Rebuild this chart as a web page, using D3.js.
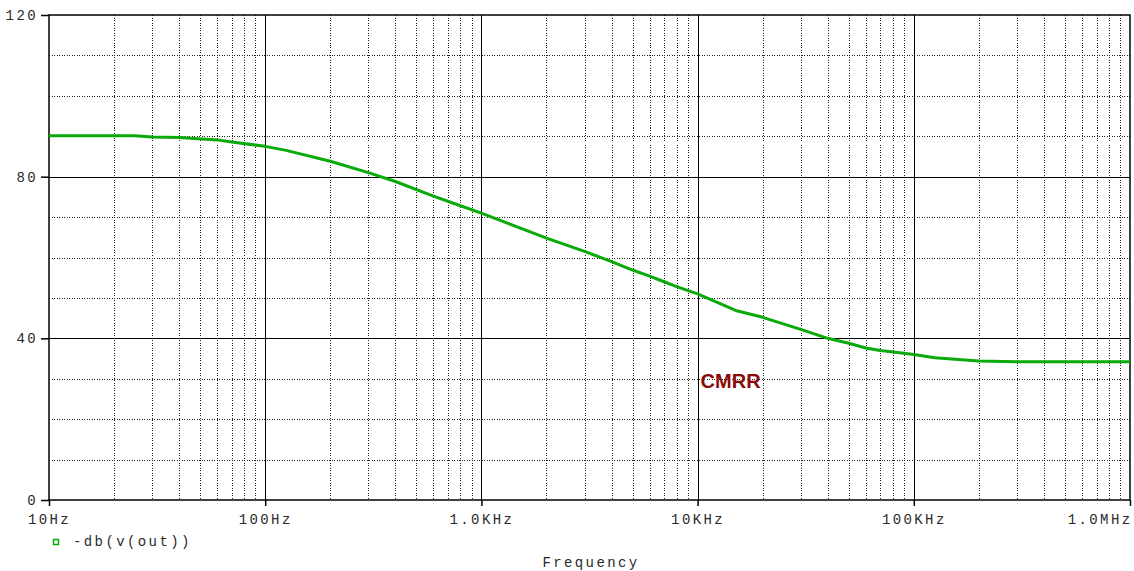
<!DOCTYPE html>
<html>
<head>
<meta charset="utf-8">
<script src="https://cdn.jsdelivr.net/npm/d3@7"></script>
<style>
body { margin:0; background:#fff; }
text { font-family:"Liberation Mono", "DejaVu Sans Mono", monospace; font-size:14px; letter-spacing:2.4px; fill:#2a2a2a; }
</style>
</head>
<body>
<script>
var freqs = [10, 25, 30, 40, 60, 70, 100, 125, 200, 300, 400, 600, 800, 1000, 2000, 3000, 4000, 5000, 6000, 7000, 8000, 10000, 15000, 20000, 30000, 40000, 50000, 60000, 70000, 90000, 100000, 125000, 200000, 300000, 1000000];
var cmrr = [90.1, 90.1, 89.8, 89.7, 89.1, 88.6, 87.5, 86.5, 83.8, 81.0, 78.8, 75.2, 72.8, 71.0, 64.8, 61.5, 59.0, 56.9, 55.4, 54.0, 52.8, 51.0, 46.9, 45.2, 42.2, 40.0, 38.8, 37.6, 37.0, 36.3, 36.0, 35.2, 34.4, 34.2, 34.2];
var xTicks = [10, 100, 1000, 10000, 100000, 1000000];
var xTickLabels = ['10Hz', '100Hz', '1.0KHz', '10KHz', '100KHz', '1.0MHz'];
var yTicks = [0, 40, 80, 120];
var seriesName = '-db(v(out))';

var W = 1134, H = 571;
// plot box (note: "top" is reserved on window)
var pLeft = 49, pRight = 1130, pTop = 15, pBottom = 500;

var svg = d3.select('body').append('svg').attr('width', W).attr('height', H);

var x = d3.scaleLog().domain([10, 1000000]).range([pLeft, pRight]);
var y = d3.scaleLinear().domain([0, 120]).range([pBottom, pTop]);

// minor grid
var minorX = [];
xTicks.slice(0, -1).forEach(function(d){
    for (var k = 2; k <= 9; k++) minorX.push(d * k);
});
var minorY = d3.range(10, 120, 10).filter(function(v){ return v % 40 !== 0; });

var grid = svg.append('g').attr('shape-rendering', 'crispEdges');
grid.selectAll('.mx').data(minorX).enter().append('line')
    .attr('x1', function(d){ return Math.round(x(d)) + 0.5; })
    .attr('x2', function(d){ return Math.round(x(d)) + 0.5; })
    .attr('y1', pTop).attr('y2', pBottom)
    .attr('stroke', '#222').attr('stroke-dasharray', '1,1.5');
grid.selectAll('.my').data(minorY).enter().append('line')
    .attr('y1', function(d){ return Math.round(y(d)) + 0.5; })
    .attr('y2', function(d){ return Math.round(y(d)) + 0.5; })
    .attr('x1', pLeft).attr('x2', pRight)
    .attr('stroke', '#222').attr('stroke-dasharray', '1,1.5');

// major grid
grid.selectAll('.Mx').data(xTicks.slice(1, -1)).enter().append('line')
    .attr('x1', function(d){ return Math.round(x(d)) + 0.5; })
    .attr('x2', function(d){ return Math.round(x(d)) + 0.5; })
    .attr('y1', pTop).attr('y2', pBottom)
    .attr('stroke', '#000');
grid.selectAll('.My').data([40, 80]).enter().append('line')
    .attr('y1', function(d){ return Math.round(y(d)) + 0.5; })
    .attr('y2', function(d){ return Math.round(y(d)) + 0.5; })
    .attr('x1', pLeft).attr('x2', pRight)
    .attr('stroke', '#000');

// frame
svg.append('rect')
    .attr('x', pLeft).attr('y', pTop)
    .attr('width', pRight - pLeft).attr('height', pBottom - pTop)
    .attr('fill', 'none').attr('stroke', '#000').attr('stroke-width', 1.5);

// axes
var yAxis = d3.axisLeft(y).tickValues(yTicks).tickSize(8).tickPadding(3);
var yg = svg.append('g').attr('transform', 'translate(' + pLeft + ',0)').call(yAxis);
yg.select('.domain').remove();
yg.selectAll('line').attr('stroke', '#000').attr('stroke-width', 1.5);
yg.selectAll('text').attr('font-size', null).attr('font-family', null);

var xAxis = d3.axisBottom(x).tickValues(xTicks)
    .tickFormat(function(d, i){ return xTickLabels[i]; })
    .tickSize(6).tickPadding(8);
var xg = svg.append('g').attr('transform', 'translate(0,' + pBottom + ')').call(xAxis);
xg.select('.domain').remove();
xg.selectAll('line').attr('stroke', '#000').attr('stroke-width', 1.5);
xg.selectAll('text').attr('font-size', null).attr('font-family', null);
xg.selectAll('.tick').filter(function(d){ return d === 1000000; })
    .select('text').attr('text-anchor', 'end').attr('dx', '2');

// curve
var pts = freqs.map(function(f, i){ return [f, cmrr[i]]; });
var line = d3.line()
    .x(function(d){ return x(d[0]); })
    .y(function(d){ return y(d[1]); });
svg.append('path').datum(pts)
    .attr('d', line)
    .attr('fill', 'none')
    .attr('stroke', '#0aaa0a')
    .attr('stroke-width', 3)
    .attr('stroke-linejoin', 'round');

// label on plot
svg.append('text')
    .attr('x', x(10000) + 3).attr('y', 388)
    .style('font-family', 'Arial, "Liberation Sans", sans-serif')
    .style('font-size', '20px').style('font-weight', 'bold').style('letter-spacing', '0')
    .style('fill', '#8c0a0a')
    .text('CMRR');

// legend
svg.append('rect')
    .attr('x', 53.5).attr('y', 539.5).attr('width', 5).attr('height', 5)
    .attr('fill', '#fff').attr('stroke', '#0aaa0a').attr('stroke-width', 1.5);
svg.append('text')
    .attr('x', 73).attr('y', 546)
    .text(seriesName);

svg.append('text')
    .attr('x', 591).attr('y', 567)
    .attr('text-anchor', 'middle')
    .text('Frequency');
</script>
</body>
</html>
